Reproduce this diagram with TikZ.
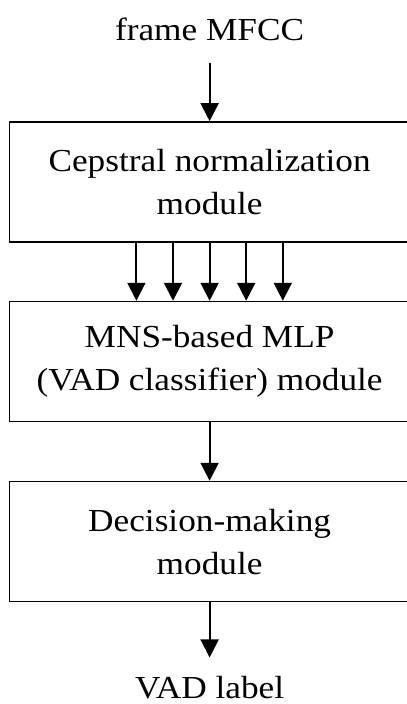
\documentclass[tikz,border=0pt]{standalone}
\usepackage{fontspec}
\setmainfont{Liberation Serif}[FakeStretch=1.1]
\usetikzlibrary{arrows.meta}

\begin{document}
\begin{tikzpicture}[x=1cm,y=1cm,>={Triangle[length=0.45cm,width=0.45cm]},
  module/.style={draw, line width=1.2pt, minimum width=10cm, minimum height=3cm,
    align=center, font=\fontsize{22.8pt}{30.6pt}\selectfont},
  sig/.style={inner sep=0pt, font=\fontsize{22.8pt}{30.6pt}\selectfont},
  flow/.style={->, line width=1.4pt}]
  \useasboundingbox (0,0) rectangle (10.15,-17.6);
  \node[sig, anchor=base] (mfcc) at (5.24,-1.0) {frame MFCC};
  \node[module] (cep) at (5.24,-4.55) {Cepstral normalization\\module};
  \node[module] (mlp) at (5.24,-9.04) {MNS-based MLP\\(VAD classifier) module};
  \node[module] (dec) at (5.24,-13.54) {Decision-making\\module};
  \node[sig, anchor=base] (vad) at (5.24,-17.45) {VAD label};
  \draw[flow, shorten <=0.55cm] (mfcc) -- (cep);
  % one arrow per coefficient stream
  \foreach \i in {-2,...,2}
    \draw[flow] ([xshift=\i*0.915cm]cep.south) -- ([xshift=\i*0.915cm]mlp.north);
  \draw[flow] (mlp) -- (dec);
  \draw[flow, shorten >=0.45cm] (dec) -- (vad);
\end{tikzpicture}
\end{document}
